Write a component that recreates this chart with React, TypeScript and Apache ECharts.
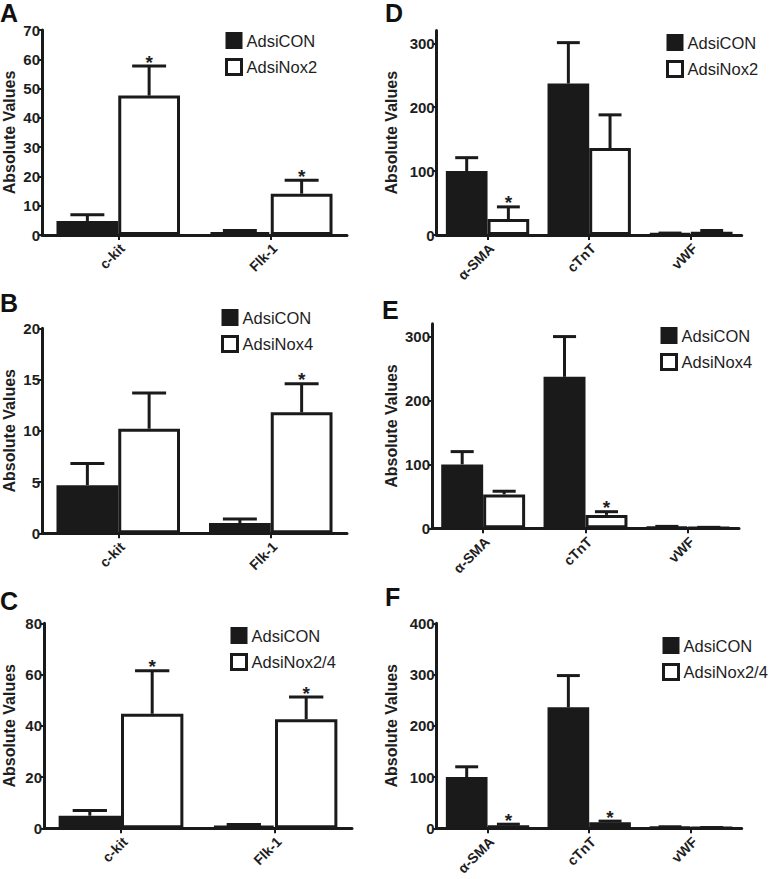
import React, { useEffect, useRef } from "react";
import * as echarts from "echarts";

// ---------- data ----------
const catsLeft = ["c-kit", "Flk-1"];
const catsRight = ["α-SMA", "cTnT", "vWF"];

const legendCon = "AdsiCON";
const legendA = "AdsiNox2";
const legendB = "AdsiNox4";
const legendC = "AdsiNox2/4";

// Panel A
const conA = [4.8, 1.0];
const conAErr = [2.1, 0.5];
const noxA = [47.6, 14.1];
const noxAErr = [10.1, 4.6];
const noxAStar = [1, 1];
// Panel B
const conB = [4.7, 1.0];
const conBErr = [2.1, 0.4];
const noxB = [10.2, 11.8];
const noxBErr = [3.5, 2.8];
const noxBStar = [0, 1];
// Panel C
const conC = [4.9, 1.0];
const conCErr = [2.0, 0.5];
const noxC = [44.7, 42.6];
const noxCErr = [16.8, 8.6];
const noxCStar = [1, 1];
// Panel D
const conD = [100, 237, 2];
const conDErr = [21, 64, 1];
const noxD = [25, 136, 5];
const noxDErr = [19, 52, 2];
const noxDStar = [1, 0, 0];
// Panel E
const conE = [100, 237, 2];
const conEErr = [20, 63, 1];
const noxE = [53, 21, 1];
const noxEErr = [5, 5, 0.5];
const noxEStar = [0, 1, 0];
// Panel F
const conF = [100, 236, 2];
const conFErr = [20, 62, 1];
const noxF = [6, 12, 1];
const noxFErr = [2, 2, 0.5];
const noxFStar = [1, 1, 0];

// y-axis ticks
const ticksA = [0, 10, 20, 30, 40, 50, 60, 70];
const ticksB = [0, 5, 10, 15, 20];
const ticksC = [0, 20, 40, 60, 80];
const ticksD = [0, 100, 200, 300];
const ticksE = [0, 100, 200, 300];
const ticksF = [0, 100, 200, 300, 400];

const INK = "#1a1a1a";
const TXT = "#1e1e1e";
const FONT = "'Liberation Sans', Arial, Helvetica, sans-serif";

type Panel = {
  letter: string;
  letterX: number;
  letterY: number;
  cats: string[];
  con: number[];
  conErr: number[];
  nox: number[];
  noxErr: number[];
  noxStar: number[];
  noxName: string;
  ticks: number[];
  max: number;
  grid: { left: number; top: number; width: number; height: number };
  gap: number;
  nameGap: number;
  legend: { left: number; top: number };
};

const panels: Panel[] = [
  {
    letter: "A", letterX: 0, letterY: 0, cats: catsLeft,
    con: conA, conErr: conAErr, nox: noxA, noxErr: noxAErr, noxStar: noxAStar, noxName: legendA,
    ticks: ticksA, max: 70,
    grid: { left: 40, top: 30, width: 307, height: 205 }, gap: 0.19, nameGap: 25,
    legend: { left: 226, top: 33 },
  },
  {
    letter: "B", letterX: 0, letterY: 290, cats: catsLeft,
    con: conB, conErr: conBErr, nox: noxB, noxErr: noxBErr, noxStar: noxBStar, noxName: legendB,
    ticks: ticksB, max: 20,
    grid: { left: 40, top: 328.3, width: 307, height: 205 }, gap: 0.19, nameGap: 25,
    legend: { left: 222, top: 310 },
  },
  {
    letter: "C", letterX: 0, letterY: 588, cats: catsLeft,
    con: conC, conErr: conCErr, nox: noxC, noxErr: noxCErr, noxStar: noxCStar, noxName: legendC,
    ticks: ticksC, max: 80,
    grid: { left: 42, top: 623.3, width: 310, height: 205 }, gap: 0.19, nameGap: 27,
    legend: { left: 231, top: 628 },
  },
  {
    letter: "D", letterX: 385, letterY: 0, cats: catsRight,
    con: conD, conErr: conDErr, nox: noxD, noxErr: noxDErr, noxStar: noxDStar, noxName: legendA,
    ticks: ticksD, max: 320,
    grid: { left: 436.7, top: 30.5, width: 305, height: 204.5 }, gap: 0.18, nameGap: 37,
    legend: { left: 667, top: 35 },
  },
  {
    letter: "E", letterX: 382, letterY: 297, cats: catsRight,
    con: conE, conErr: conEErr, nox: noxE, noxErr: noxEErr, noxStar: noxEStar, noxName: legendB,
    ticks: ticksE, max: 320,
    grid: { left: 432, top: 323.8, width: 307, height: 204.5 }, gap: 0.18, nameGap: 33,
    legend: { left: 661, top: 328 },
  },
  {
    letter: "F", letterX: 385, letterY: 584, cats: catsRight,
    con: conF, conErr: conFErr, nox: noxF, noxErr: noxFErr, noxStar: noxFStar, noxName: legendC,
    ticks: ticksF, max: 400,
    grid: { left: 436.7, top: 623.3, width: 305, height: 205 }, gap: 0.18, nameGap: 37,
    legend: { left: 663, top: 638 },
  },
];

function errSeries(
  gi: number,
  vals: number[],
  errs: number[],
  stars: number[],
  sign: number,
  gap: number
) {
  return {
    type: "custom",
    name: "err" + gi + "_" + sign,
    xAxisIndex: gi,
    yAxisIndex: gi,
    z: 5,
    silent: true,
    encode: { x: 0, y: 1 },
    data: vals.map((v, i) => [i, v, errs[i], stars[i] || 0]),
    renderItem: (params: any, api: any) => {
      const cat = api.value(0);
      const v = api.value(1);
      const e = api.value(2);
      const star = api.value(3);
      const band = api.size([1, 0])[0];
      const barW = (band * (1 - gap)) / 2;
      const cx = api.coord([cat, 0])[0] + (sign * barW) / 2;
      const yBar = api.coord([cat, v])[1];
      const yTop = api.coord([cat, v + e])[1];
      const capW = barW * 0.55;
      const children: any[] = [
        {
          type: "line",
          shape: { x1: cx, y1: yBar, x2: cx, y2: yTop },
          style: { stroke: INK, lineWidth: 3 },
        },
        {
          type: "line",
          shape: { x1: cx - capW / 2, y1: yTop, x2: cx + capW / 2, y2: yTop },
          style: { stroke: INK, lineWidth: 3 },
        },
      ];
      if (star) {
        children.push({
          type: "text",
          x: cx,
          y: yTop - 4,
          style: {
            text: "*",
            fill: TXT,
            font: `bold 19px ${FONT}`,
            align: "center",
            verticalAlign: "middle",
          },
        });
      }
      return { type: "group", children };
    },
  };
}

// category labels, rotated 45°, anchored at each category tick via the axis scale
function catLabelSeries(gi: number, cats: string[]) {
  return {
    type: "custom",
    name: "cat" + gi,
    xAxisIndex: gi,
    yAxisIndex: gi,
    z: 6,
    silent: true,
    clip: false,
    encode: { x: 0, y: 1 },
    data: cats.map((c, i) => [i, 0]),
    renderItem: (params: any, api: any) => {
      const p = api.coord([api.value(0), 0]);
      return {
        type: "group",
        x: p[0] + 4,
        y: p[1] + 11,
        rotation: Math.PI / 4,
        children: [
          {
            type: "text",
            x: 0,
            y: 0,
            style: {
              text: cats[params.dataIndex],
              fill: TXT,
              font: `bold 14px ${FONT}`,
              align: "right",
              verticalAlign: "middle",
            },
          },
        ],
      };
    },
  };
}

function buildOption() {
  const grid: any[] = [];
  const xAxis: any[] = [];
  const yAxis: any[] = [];
  const series: any[] = [];
  const legend: any[] = [];
  const graphic: any[] = [];

  panels.forEach((p, gi) => {
    grid.push({ ...p.grid, containLabel: false });
    xAxis.push({
      type: "category",
      gridIndex: gi,
      data: p.cats,
      axisLine: { show: true, onZero: false, lineStyle: { color: INK, width: 3 } },
      axisTick: { show: true, alignWithLabel: true, length: 5, lineStyle: { color: INK, width: 2 } },
      axisLabel: { show: false },
      splitLine: { show: false },
    });
    const step = p.ticks[1] - p.ticks[0];
    yAxis.push({
      type: "value",
      gridIndex: gi,
      min: 0,
      max: p.max,
      interval: step,
      name: "Absolute Values",
      nameLocation: "middle",
      nameGap: p.nameGap,
      nameTextStyle: { color: TXT, fontFamily: FONT, fontWeight: "bold", fontSize: 16 },
      axisLine: { show: true, lineStyle: { color: INK, width: 3 } },
      axisTick: { show: true, length: 4, customValues: p.ticks, lineStyle: { color: INK, width: 2 } },
      axisLabel: {
        margin: 2,
        color: TXT,
        fontFamily: FONT,
        fontWeight: "bold",
        fontSize: 15,
        customValues: p.ticks,
      },
      splitLine: { show: false },
    });
    series.push({
      type: "bar",
      name: legendCon,
      xAxisIndex: gi,
      yAxisIndex: gi,
      data: p.con,
      barGap: "0%",
      barCategoryGap: Math.round(p.gap * 100) + "%",
      itemStyle: { color: INK, borderColor: INK, borderWidth: 3 },
      silent: true,
    });
    series.push({
      type: "bar",
      name: p.noxName,
      xAxisIndex: gi,
      yAxisIndex: gi,
      data: p.nox,
      barGap: "0%",
      barCategoryGap: Math.round(p.gap * 100) + "%",
      itemStyle: { color: "#ffffff", borderColor: INK, borderWidth: 3 },
      silent: true,
    });
    series.push(errSeries(gi, p.con, p.conErr, [], -1, p.gap));
    series.push(errSeries(gi, p.nox, p.noxErr, p.noxStar, 1, p.gap));
    series.push(catLabelSeries(gi, p.cats));

    legend.push({
      left: p.legend.left - 1,
      top: p.legend.top - 1,
      orient: "vertical",
      padding: 0,
      itemWidth: 15,
      itemHeight: 15,
      itemGap: 9,
      selectedMode: false,
      icon: "rect",
      textStyle: { color: TXT, fontFamily: FONT, fontSize: 16.5, padding: [0, 0, 0, 0] },
      data: [
        { name: legendCon, itemStyle: { color: INK, borderColor: INK, borderWidth: 2 } },
        { name: p.noxName, itemStyle: { color: "#ffffff", borderColor: INK, borderWidth: 3 } },
      ],
    });

    graphic.push({
      type: "text",
      left: p.letterX,
      top: p.letterY,
      style: {
        text: p.letter,
        fill: "#111",
        font: `bold 25px ${FONT}`,
      },
    });
  });

  return {
    animation: false,
    backgroundColor: "#ffffff",
    grid,
    xAxis,
    yAxis,
    series,
    legend,
    graphic,
  };
}

export default function App() {
  const ref = useRef<HTMLDivElement>(null);
  useEffect(() => {
    if (!ref.current) return;
    const chart = echarts.init(ref.current, undefined, { renderer: "svg" });
    chart.setOption(buildOption() as any);
    return () => chart.dispose();
  }, []);
  return (
    <div
      ref={ref}
      style={{ position: "absolute", left: 0, top: 0, width: 771, height: 879, background: "#fff" }}
    />
  );
}
